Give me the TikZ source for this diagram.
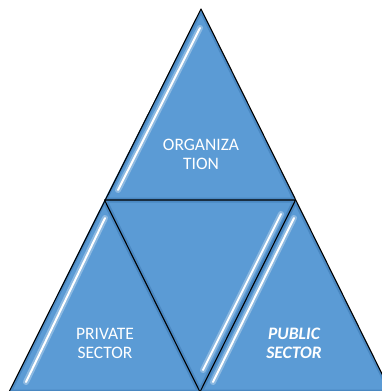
\documentclass[tikz,border=0pt]{standalone}
\usepackage{fontspec}
\setmainfont{Carlito}
\usetikzlibrary{positioning}
\definecolor{triblue}{HTML}{5B9BD5}
\definecolor{triedge}{HTML}{4A88C2}
\tikzset{%
   tri/.style={
      fill=triblue,
      draw=black,
      line width=1.1pt,
      line join=round
   },
   rim/.style={
      draw=triedge,
      line width=5pt,
      line join=round
   },
   glow/.style={
      line cap=round,
      line width=6pt,
      draw=white,
      opacity=.3
   },
   shine/.style={
      line cap=round,
      line width=2pt,
      draw=white
   },
   lbl/.style={
      text=white,
      align=center,
      font=\fontsize{17.5}{19}\selectfont
   },
}

\begin{document}
\begin{tikzpicture}[x=1pt, y=-1pt]
   \useasboundingbox (0,0) rectangle (382,391);
   \clip (0,0) rectangle (382,391);
   % corners
   \coordinate (top) at (201,9);
   \coordinate (ml) at (104.5,200);
   \coordinate (mr) at (295.5,200);
   \coordinate (bl) at (9,392);
   \coordinate (bm) at (200,392);
   \coordinate (br) at (391,392);
   % inner shading
   \begin{scope}
      \clip (top) -- (ml) -- (mr) -- cycle;
      \fill[triblue] (top) -- (ml) -- (mr) -- cycle;
      \draw[rim] (top) -- (ml) -- (mr) -- cycle;
   \end{scope}
   \begin{scope}
      \clip (ml) -- (bl) -- (bm) -- cycle;
      \fill[triblue] (ml) -- (bl) -- (bm) -- cycle;
      \draw[rim] (ml) -- (bl) -- (bm) -- cycle;
   \end{scope}
   \begin{scope}
      \clip (ml) -- (mr) -- (bm) -- cycle;
      \fill[triblue] (ml) -- (mr) -- (bm) -- cycle;
      \draw[rim] (ml) -- (mr) -- (bm) -- cycle;
   \end{scope}
   \begin{scope}
      \clip (mr) -- (bm) -- (br) -- cycle;
      \fill[triblue] (mr) -- (bm) -- (br) -- cycle;
      \draw[rim] (mr) -- (bm) -- (br) -- cycle;
   \end{scope}
   % highlights
   \draw[glow] (200,28) -- (118,190);
   \draw[shine] (200,28) -- (118,190);
   \draw[glow] (105,218) -- (26,382);
   \draw[shine] (105,218) -- (26,382);
   \draw[glow] (281,214) -- (203,370);
   \draw[shine] (281,214) -- (203,370);
   \draw[glow] (294,218) -- (213,382);
   \draw[shine] (294,218) -- (213,382);
   % outlines
   \draw[tri, fill=none] (top) -- (bl) -- (br) -- cycle;
   \draw[tri, fill=none] (ml) -- (mr) -- (bm) -- cycle;
   % labels
   \node[lbl] (org) at (201,154) {ORGANIZA\\TION};
   \node[lbl] (priv) at (105,343) {PRIVATE\\SECTOR};
   \node[lbl, font=\fontsize{17.5}{19}\selectfont\bfseries\itshape] (pub) at (294,343) {PUBLIC\\SECTOR};
\end{tikzpicture}
\end{document}
